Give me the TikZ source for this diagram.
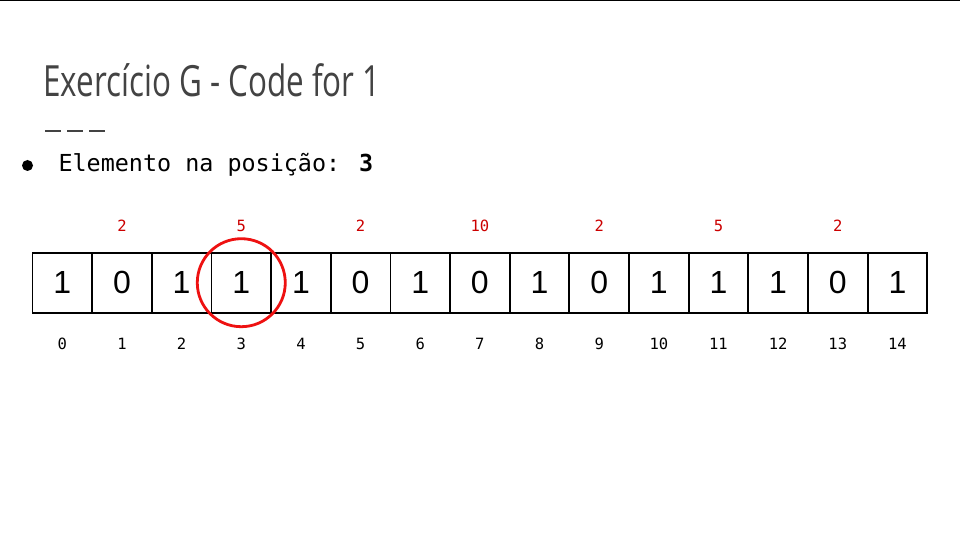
\documentclass[tikz,border=0pt]{standalone}
\usepackage{fontspec}
\setmainfont{Liberation Sans}
\newfontfamily\monofont{DejaVu Sans Mono}
\newfontfamily\titlefont[FakeStretch=0.73]{Open Sans}
\definecolor{titlegray}{HTML}{434343}
\definecolor{numred}{HTML}{CC0000}
\definecolor{circred}{HTML}{EE1111}
\begin{document}
\begin{tikzpicture}[x=1pt,y=-1pt,
  cell/.style={draw=black,line width=1.8pt,minimum width=59.65pt,minimum height=60pt,inner sep=0pt,
    font=\fontsize{32}{32}\selectfont},
  toplabel/.style={anchor=base,text=numred,font=\monofont\fontsize{15.5}{15.5}\selectfont,inner sep=0pt},
  idxlabel/.style={anchor=base,text=black,font=\monofont\fontsize{15.5}{15.5}\selectfont,inner sep=0pt},
  dashseg/.style={draw=titlegray,line width=1.4pt}]
\useasboundingbox (0,0) rectangle (960,540);
\fill[white] (0,0) rectangle (960,540);
\draw[line width=2pt] (0,0) -- (960,0);
% title
\node[anchor=base west,inner sep=0pt,text=titlegray,font=\titlefont\fontsize{43}{43}\selectfont] (title) at (43,96.7) {Exercício G - Code for 1};
% dashes
\coordinate (d1a) at (45,131); \coordinate (d1b) at (61,131);
\coordinate (d2a) at (67,131); \coordinate (d2b) at (83,131);
\coordinate (d3a) at (89,131); \coordinate (d3b) at (105,131);
\draw[dashseg] (d1a) -- (d1b);
\draw[dashseg] (d2a) -- (d2b);
\draw[dashseg] (d3a) -- (d3b);
% bullet
\node[circle,fill=black,minimum size=11pt,inner sep=0pt] (bullet) at (27.5,165.5) {};
\node[anchor=base west,inner sep=0pt,font=\monofont\fontsize{23.4}{24}\selectfont] (item) at (58.3,171.5) {Elemento na posição: \textbf{3}};
% cells
\foreach \v [count=\i from 0] in {1,0,1,1,1,0,1,0,1,0,1,1,1,0,1} {
  \node[cell] (b\i) at ({32.5+59.65*(\i+0.5)},282.7) {\v};
  \node[idxlabel] (i\i) at ({32.5+59.65*(\i+0.5)},349) {\i};
}
\foreach \k/\t in {1/2,3/5,5/2,7/10,9/2,11/5,13/2} {
  \node[toplabel] (t\k) at ({32.5+59.65*(\k+0.5)},231.3) {\t};
}
\node[circle,draw=circred,line width=2.8pt,minimum size=88pt,inner sep=0pt] (circ) at (b3.center) {};
\end{tikzpicture}
\end{document}
